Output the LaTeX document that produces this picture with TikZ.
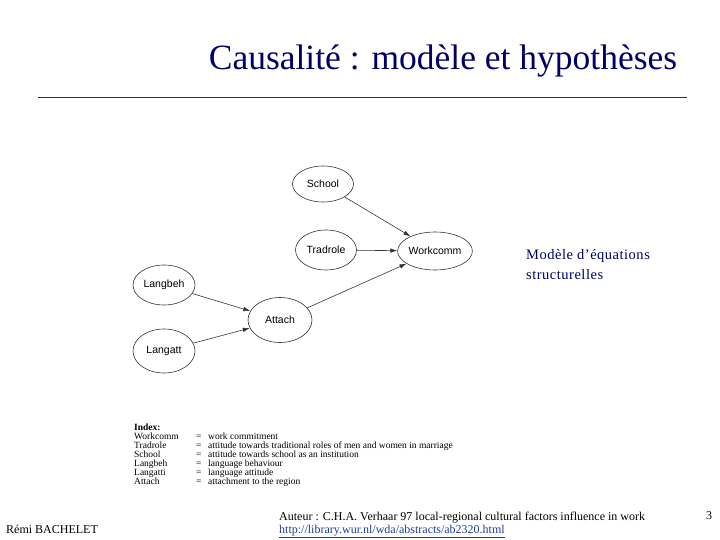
\documentclass[tikz,border=0pt]{standalone}
\usepackage{fontspec}
\setmainfont{Liberation Serif}
\newfontfamily\arialf{Liberation Sans}
\newfontfamily\spacedf[LetterSpace=3.5]{Liberation Serif}
\usetikzlibrary{shapes.geometric,arrows.meta}
\definecolor{navy}{HTML}{000066}
\definecolor{linkblue}{HTML}{1F3F9F}
\definecolor{edgegray}{HTML}{333333}
\tikzset{
  var/.style={ellipse, draw=edgegray, line width=0.6pt, inner sep=0pt,
    font=\arialf\fontsize{10.5}{12}\selectfont},
  link/.style={draw=edgegray, line width=0.6pt, -{Latex[length=7pt,width=4.5pt]}},
  idx/.style={anchor=base west, inner sep=0pt, font=\fontsize{9.5}{9}\selectfont},
  side/.style={anchor=base west, inner sep=0pt, text=navy, font=\spacedf\fontsize{14.5}{18}\selectfont},
}
\begin{document}
\begin{tikzpicture}[x=1pt,y=-1pt]
\useasboundingbox[fill=white] (0,0) rectangle (720,540);
% title
\node[anchor=base, inner sep=0pt, text=navy, font=\fontsize{35.5}{40}\selectfont] (title) at (443,70) {Causalité : modèle et hypothèses};
\coordinate (r1) at (38,97);
\coordinate (r2) at (687,97);
\draw[line width=0.8pt, black!80] (r1) -- (r2);
% ellipses
\node[var, minimum width=61pt, minimum height=36pt] (school) at (323,184) {School};
\node[var, minimum width=61pt, minimum height=40pt] (tradrole) at (326,250) {Tradrole};
\node[var, minimum width=61pt, minimum height=38pt] (workcomm) at (435,251) {Workcomm};
\node[var, minimum width=62pt, minimum height=40pt] (langbeh) at (164,285) {Langbeh};
\node[var, minimum width=64pt, minimum height=45pt] (attach) at (280,320) {Attach};
\node[var, minimum width=62pt, minimum height=44pt] (langatt) at (164,351) {Langatt};
% links
\draw[link] (school) -- (workcomm);
\draw[link] (tradrole) -- (workcomm);
\draw[link] (attach) -- (workcomm);
\draw[link] (langbeh) -- (attach);
\draw[link] (langatt) -- (attach);
% side text
\node[side] (side1) at (526,259) {Modèle d’équations};
\node[side] (side2) at (526,279) {structurelles};
% index
\node[idx, font=\bfseries\fontsize{9.5}{9}\selectfont] (ixh) at (134,430) {Index:};
\foreach \n/\a/\b [count=\i] in {
  Workcomm/ix1/work commitment,
  Tradrole/ix2/attitude towards traditional roles of men and women in marriage,
  School/ix3/attitude towards school as an institution,
  Langbeh/ix4/language behaviour,
  Langatti/ix5/language attitude,
  Attach/ix6/attachment to the region}{
  \node[idx] (\a n) at (134,430+9*\i) {\n};
  \node[idx] (\a e) at (196,430+9*\i) {=};
  \node[idx] (\a d) at (208,430+9*\i) {\b};
}
% footer
\node[anchor=base west, inner sep=0pt, font=\fontsize{12}{14}\selectfont] (author) at (6,533) {Rémi BACHELET};
\node[anchor=base west, inner sep=0pt, font=\fontsize{12}{14}\selectfont] (src) at (279,520) {Auteur : C.H.A. Verhaar 97 local-regional cultural factors influence in work};
\node[anchor=base west, inner sep=0pt, text=linkblue, font=\fontsize{12}{14}\selectfont] (url) at (279,533) {\underline{http://library.wur.nl/wda/abstracts/ab2320.html}};
\node[anchor=base west, inner sep=0pt, font=\fontsize{12}{14}\selectfont] (page) at (706,519) {3};
\end{tikzpicture}
\end{document}
